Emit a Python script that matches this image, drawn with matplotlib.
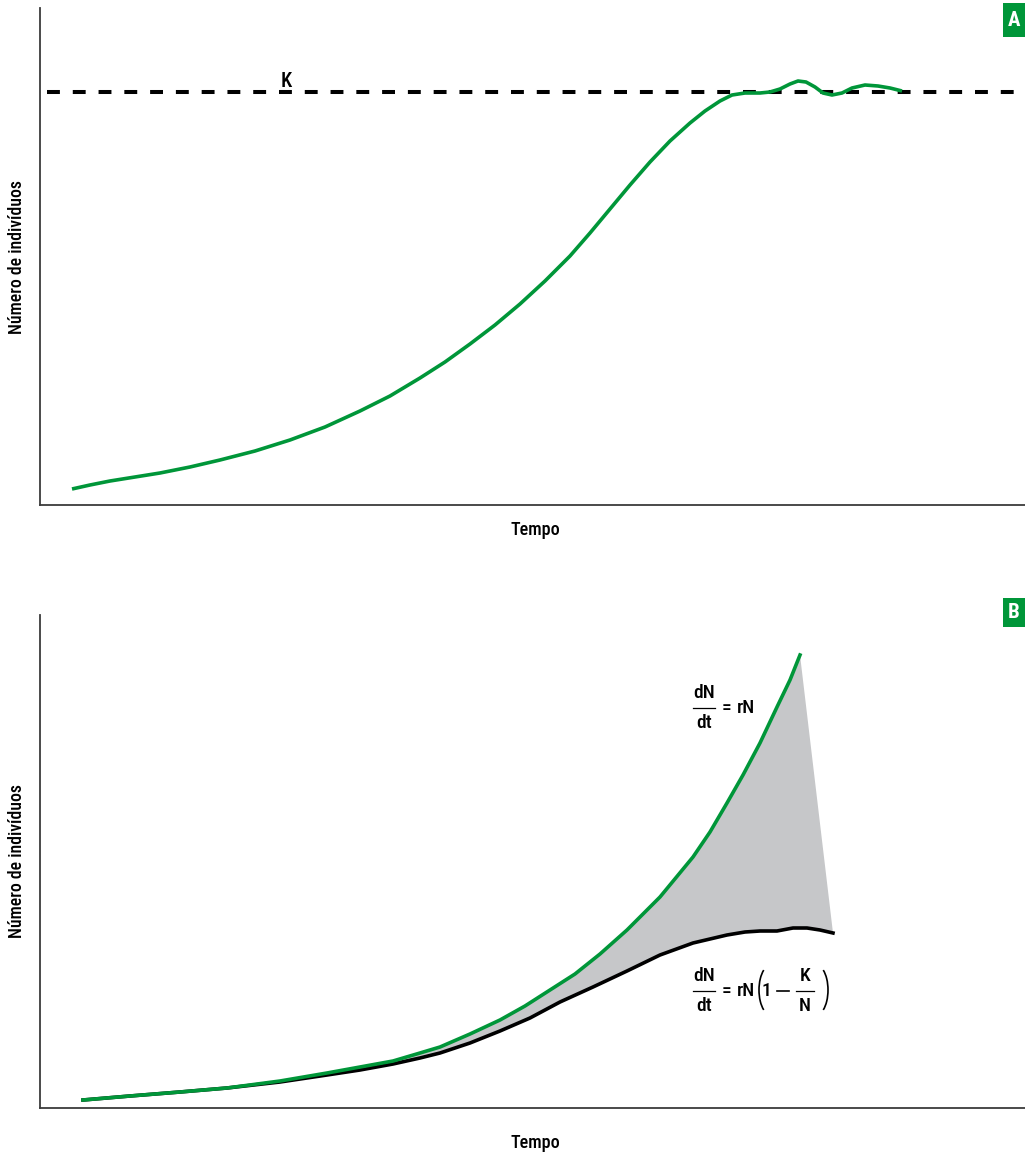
import os
import matplotlib
matplotlib.use("Agg")
import matplotlib.pyplot as plt
import matplotlib.font_manager as fm
from matplotlib.patches import Polygon, Rectangle, Arc

# ---------------- data ----------------
# Panel A: logistic growth (time units, number of individuals)
a_time = [32, 50, 70, 95, 120, 150, 180, 215, 250, 285, 320, 350, 380, 405, 430, 455,
          480, 505, 530, 550, 570, 590, 610, 630, 650, 665, 680, 692, 705, 720, 730,
          740, 750, 758, 766, 775, 783, 792, 802, 812, 825, 838, 850, 862]
a_pop = [16, 20, 24, 28, 32, 38, 45, 54, 65, 78, 94, 109, 127, 143, 161, 180,
         201, 224, 249, 272, 296, 320, 343, 364, 382, 394, 404, 410, 412, 412, 413,
         416, 421, 424, 423, 418, 412, 410, 412, 417, 420, 419, 417, 414]
K_level = 413
K_span = [7, 985]

# Panel B: exponential vs logistic growth
b_exp_time = [43, 90, 140, 187, 240, 287, 320, 353, 380, 400, 430, 460, 485, 510, 535,
              560, 587, 620, 653, 670, 687, 703, 720, 737, 750, 760]
b_exp_pop = [8, 12, 16, 20, 27, 35, 41, 47, 55, 61, 74, 88, 102, 118, 134,
             154, 178, 211, 251, 276, 305, 333, 365, 401, 428, 453]
b_log_time = [43, 90, 140, 187, 240, 287, 320, 353, 380, 400, 430, 460, 490, 520, 553,
              587, 620, 653, 687, 705, 720, 737, 753, 767, 780, 793]
b_log_pop = [8, 12, 16, 20, 26, 33, 38, 44, 50, 55, 65, 77, 90, 106, 121,
             137, 153, 165, 173, 176, 177, 177, 180, 180, 178, 175]

# ---------------- fonts ----------------
def pick_font(patterns):
    files = [f.fname for f in fm.fontManager.ttflist]
    for p in patterns:
        for fn in files:
            if os.path.basename(fn) == p:
                return fn
    return None

reg_file = pick_font(['LiberationSansNarrow-Regular.ttf', 'RobotoCondensed-Medium.ttf',
                      'RobotoCondensed-Regular.ttf', 'DejaVuSansCondensed.ttf'])
bold_file = pick_font(['LiberationSansNarrow-Bold.ttf', 'RobotoCondensed-Bold.ttf',
                       'DejaVuSansCondensed-Bold.ttf'])
scale = 1.0
if reg_file and 'DejaVu' in os.path.basename(reg_file):
    scale = 0.88
FP = fm.FontProperties(fname=reg_file) if reg_file else fm.FontProperties(family='DejaVu Sans', stretch='condensed')
FPB = fm.FontProperties(fname=bold_file) if bold_file else fm.FontProperties(family='DejaVu Sans', weight='bold')

GREEN = '#009639'
GRAY = '#c6c7c9'
SPINE = '#3c3c3c'

W, H = 1025, 1155
fig = plt.figure(figsize=(W / 100, H / 100), dpi=100)


def make_ax(top_px, bottom_px):
    ax = fig.add_axes([40 / W, (H - bottom_px) / H, 985 / W, (bottom_px - top_px) / H])
    ax.set_xlim(0, 985)
    ax.set_ylim(0, bottom_px - top_px)
    for s in ['top', 'right']:
        ax.spines[s].set_visible(False)
    for s in ['left', 'bottom']:
        ax.spines[s].set_color(SPINE)
        ax.spines[s].set_linewidth(1.3)
    ax.set_xticks([])
    ax.set_yticks([])
    return ax


def labels(ax, top_px, bottom_px, xlab_top_px):
    hgt = bottom_px - top_px
    ax.set_ylabel('Número de indivíduos', fontproperties=FP, fontsize=12.8 * scale)
    ax.yaxis.set_label_coords(-14 / 985, 0.5)
    ax.set_xlabel('Tempo', fontproperties=FP, fontsize=13 * scale)
    ax.xaxis.set_label_coords(0.503, -(xlab_top_px - bottom_px) / hgt)


# ---------------- panel A ----------------
axA = make_ax(8, 505)
axA.plot(K_span, [K_level, K_level], color='black', lw=2.9, dashes=(3.2, 3.2), zorder=2)
axA.plot(a_time, a_pop, color=GREEN, lw=2.6, solid_capstyle='butt', solid_joinstyle='round', zorder=3)
axA.text(246, K_level + 1, 'K', fontproperties=FP, fontsize=14.5 * scale, ha='center', va='bottom')
labels(axA, 8, 505, 521)

# ---------------- panel B ----------------
axB = make_ax(615, 1108)
poly = list(zip(b_exp_time, b_exp_pop)) + list(zip(b_log_time[::-1], b_log_pop[::-1]))
axB.add_patch(Polygon(poly, closed=True, facecolor=GRAY, edgecolor='none', zorder=1))
axB.plot(b_log_time, b_log_pop, color='black', lw=2.6, solid_joinstyle='round', zorder=2)
axB.plot(b_exp_time, b_exp_pop, color=GREEN, lw=2.6, solid_joinstyle='round', zorder=3)
labels(axB, 615, 1108, 1134)

fs_eq = 14 * scale


def frac(ax, xc, yc, num, den, half_w):
    ax.text(xc, yc + 15, num, fontproperties=FP, fontsize=fs_eq, ha='center', va='center')
    ax.text(xc, yc - 15, den, fontproperties=FP, fontsize=fs_eq, ha='center', va='center')
    ax.plot([xc - half_w, xc + half_w], [yc, yc], color='black', lw=0.9)


# dN/dt = rN   (fraction line at pixel y=708 -> data 400)
frac(axB, 664, 400, 'dN', 'dt', 11)
axB.text(682, 400, '=', fontproperties=FP, fontsize=fs_eq, ha='left', va='center')
axB.text(697, 400, 'rN', fontproperties=FP, fontsize=fs_eq, ha='left', va='center')

# dN/dt = rN (1 - K/N)  (fraction line at pixel y=991 -> data 117)
frac(axB, 664, 117, 'dN', 'dt', 11)
axB.text(682, 117, '=', fontproperties=FP, fontsize=fs_eq, ha='left', va='center')
axB.text(697, 117, 'rN', fontproperties=FP, fontsize=fs_eq, ha='left', va='center')
axB.add_patch(Arc((731, 118), 24, 50, theta1=110, theta2=250, color='black', lw=1.2))
axB.text(726, 117, '1', fontproperties=FP, fontsize=fs_eq, ha='center', va='center')
axB.plot([737, 749], [117, 117], color='black', lw=1.2)
frac(axB, 765, 117, 'K', 'N', 9)
axB.add_patch(Arc((776, 118), 24, 50, theta1=-70, theta2=70, color='black', lw=1.2))

# ---------------- panel tags ----------------
for tag, y0, y1 in [('A', 3, 37), ('B', 598, 627)]:
    fig.patches.append(Rectangle((1003 / W, 1 - y1 / H), 22 / W, (y1 - y0) / H,
                                 transform=fig.transFigure, facecolor=GREEN, edgecolor='none'))
    fig.text(1014 / W, 1 - (y0 + y1) / 2 / H, tag, color='white', fontproperties=FPB,
             fontsize=15 * scale, ha='center', va='center')

fig.savefig('out.png', dpi=100)
